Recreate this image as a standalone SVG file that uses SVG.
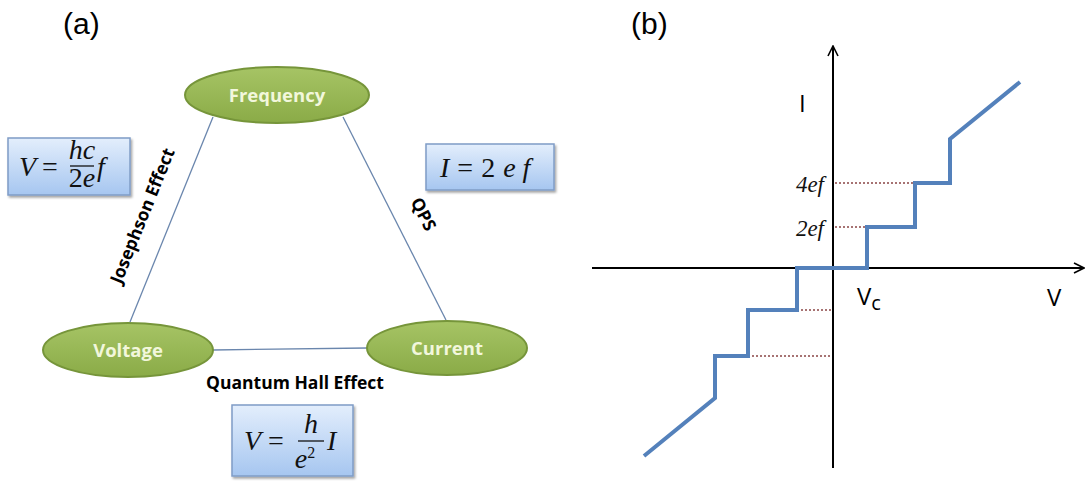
<svg xmlns="http://www.w3.org/2000/svg" width="1086" height="481" viewBox="0 0 1086 481">
<defs>
<linearGradient id="gGreen" x1="0" y1="0" x2="0" y2="1">
<stop offset="0" stop-color="#a6c465"/>
<stop offset="1" stop-color="#8aab47"/>
</linearGradient>
<linearGradient id="gBlue" x1="0" y1="0" x2="0" y2="1">
<stop offset="0" stop-color="#e3eefc"/>
<stop offset="1" stop-color="#a6c6f0"/>
</linearGradient>
<filter id="sh" x="-10%" y="-10%" width="130%" height="140%">
<feDropShadow dx="1.5" dy="2" stdDeviation="1.2" flood-color="#000" flood-opacity="0.35"/>
</filter>
<marker id="arr" viewBox="0 0 12 12" refX="11" refY="6" markerWidth="12" markerHeight="12" markerUnits="userSpaceOnUse" orient="auto">
<path d="M1,1 L11,6 L1,11" fill="none" stroke="#000" stroke-width="1.6"/>
</marker>
<style>
.ell{fill:url(#gGreen);stroke:#76953a;stroke-width:2}
.nt{font-family:"Open Sans","Liberation Sans",sans-serif;font-weight:bold;font-size:18.5px;fill:#f2f7dc;text-anchor:middle}
.edge{stroke:#6a86ad;stroke-width:1.3;fill:none}
.el{font-family:"Open Sans","Liberation Sans",sans-serif;font-weight:bold;font-size:17.5px;fill:#000;text-anchor:middle}
.box{fill:url(#gBlue);stroke:#7f9cc6;stroke-width:1.5}
.math{font-family:"Liberation Serif","DejaVu Serif",serif;font-size:28px;fill:#111}
.mi{font-style:italic}
.lab{font-family:"Liberation Sans",Arial,sans-serif;font-size:30px;fill:#000}
.ax{stroke:#000;stroke-width:2;fill:none}
.stair{stroke:#5481bb;stroke-width:4;fill:none;stroke-linejoin:miter}
.dot{stroke:#8b4545;stroke-width:1.3;stroke-dasharray:2,2;fill:none}
.tick{font-family:"Liberation Serif",serif;font-style:italic;font-size:23px;fill:#111;text-anchor:end}
.axl{font-family:"Open Sans","Liberation Sans",sans-serif;font-size:24px;fill:#000}
</style>
</defs>
<rect width="1086" height="481" fill="#fff"/>

<text class="lab" x="63" y="34">(a)</text>
<text class="lab" x="631" y="34">(b)</text>

<g id="connectors">
<line class="edge" x1="213" y1="117" x2="130" y2="322"/>
<line class="edge" x1="343" y1="117" x2="446" y2="320"/>
<line class="edge" x1="213" y1="350" x2="367" y2="348"/>
</g>

<g id="edge-labels">
<text class="el" transform="translate(148,218) rotate(-68)">Josephson Effect</text>
<text class="el" transform="translate(418,217) rotate(63)">QPS</text>
<text class="el" x="295" y="389">Quantum Hall Effect</text>
</g>

<g id="node-frequency">
<ellipse class="ell" cx="277" cy="95" rx="92" ry="28"/>
<text class="nt" x="277" y="102">Frequency</text>
</g>
<g id="node-voltage">
<ellipse class="ell" cx="128" cy="350" rx="85" ry="27"/>
<text class="nt" x="128" y="357">Voltage</text>
</g>
<g id="node-current">
<ellipse class="ell" cx="447" cy="348" rx="80" ry="27"/>
<text class="nt" x="447" y="355">Current</text>
</g>

<g id="eq-josephson">
<rect class="box" x="8" y="138" width="122" height="57" filter="url(#sh)"/>
<text class="math" x="19" y="176"><tspan class="mi">V</tspan><tspan dx="6">=</tspan></text>
<text class="math mi" x="82" y="159" font-size="20" text-anchor="middle">hc</text>
<line x1="70" y1="166" x2="94" y2="166" stroke="#111" stroke-width="1.3"/>
<text class="math" x="82" y="187" font-size="20" text-anchor="middle">2<tspan class="mi">e</tspan></text>
<text class="math mi" x="97" y="176">f</text>
</g>

<g id="eq-qps">
<rect class="box" x="426" y="144" width="128" height="46" filter="url(#sh)"/>
<text class="math" x="440" y="177"><tspan class="mi">I</tspan><tspan dx="8">=</tspan><tspan dx="8">2</tspan><tspan class="mi" dx="8">e</tspan><tspan class="mi" dx="7">f</tspan></text>
</g>

<g id="eq-hall">
<rect class="box" x="232" y="405" width="121" height="71" filter="url(#sh)"/>
<text class="math" x="244" y="450"><tspan class="mi">V</tspan><tspan dx="7">=</tspan></text>
<text class="math mi" x="311" y="433" font-size="24" text-anchor="middle">h</text>
<line x1="298" y1="441" x2="324" y2="441" stroke="#111" stroke-width="1.3"/>
<text class="math mi" x="305" y="468" font-size="24" text-anchor="middle">e<tspan font-size="16" dy="-10" font-style="normal">2</tspan></text>
<text class="math mi" x="327" y="450">I</text>
</g>

<g id="plot">
<line class="ax" x1="833" y1="468" x2="833" y2="46" marker-end="url(#arr)"/>
<line class="ax" x1="592" y1="268" x2="1084" y2="268" marker-end="url(#arr)"/>
<line class="dot" x1="835" y1="183" x2="915" y2="183"/>
<line class="dot" x1="835" y1="227" x2="865" y2="227"/>
<line class="dot" x1="797" y1="310" x2="832" y2="310"/>
<line class="dot" x1="748" y1="356" x2="832" y2="356"/>
<polyline class="stair" points="644,456 715,398 715,356 748,356 748,310 797,310 797,268 867,268 867,227 915,227 915,183 950,183 950,139 1020,82"/>
<text class="axl" x="799" y="112">I</text>
<text class="tick" x="824" y="192">4<tspan>ef</tspan></text>
<text class="tick" x="824" y="236">2<tspan>ef</tspan></text>
<text class="axl" x="857" y="305">V<tspan font-size="20" dy="5">c</tspan></text>
<text class="axl" x="1047" y="306">V</text>
</g>
</svg>
